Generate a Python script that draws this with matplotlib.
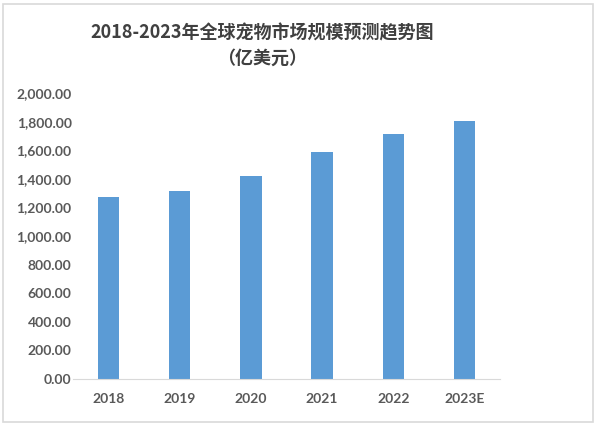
import matplotlib
matplotlib.use("Agg")
import matplotlib.pyplot as plt
from matplotlib.patches import Rectangle
from matplotlib.ticker import FuncFormatter

plt.rcParams['font.family'] = ['Lato', 'Noto Sans CJK SC', 'DejaVu Sans']

years = ["2018", "2019", "2020", "2021", "2022", "2023E"]
market_size = [1270, 1317, 1420, 1590, 1713, 1806]
y_ticks = [0, 200, 400, 600, 800, 1000, 1200, 1400, 1600, 1800, 2000]

fig = plt.figure(figsize=(6, 4.28), dpi=100)
ax = fig.add_axes([0.1217, 0.1145, 0.7116, 0.668])

ax.bar(range(len(years)), market_size, width=0.30, color="#5B9BD5", zorder=2)

ax.set_xlim(-0.5, len(years) - 0.5)
ax.set_ylim(0, 2000)
ax.set_yticks(y_ticks)
ax.yaxis.set_major_formatter(FuncFormatter(lambda v, p: f"{v:,.2f}"))
ax.set_xticks(range(len(years)))
ax.set_xticklabels(years)

for s in ["top", "right", "left"]:
    ax.spines[s].set_visible(False)
ax.spines["bottom"].set_color("#d9d9d9")
ax.tick_params(axis="both", length=0, colors="#595959", labelsize=10)
ax.tick_params(axis="y", pad=1)
ax.tick_params(axis="x", pad=10)
for lab in ax.get_yticklabels() + ax.get_xticklabels():
    lab.set_fontweight("bold")

fig.text(0.4375, 0.922, "2018-2023年全球宠物市场规模预测趋势图",
         ha="center", va="center", fontsize=13, fontweight="bold",
         color="#404040", family=["Noto Sans CJK SC", "DejaVu Sans"])
fig.text(0.4375, 0.863, "（亿美元）", ha="center", va="center",
         fontsize=13, fontweight="bold", color="#404040",
         family=["Noto Sans CJK SC", "DejaVu Sans"])

fig.patches.append(Rectangle((3 / 600, 1 - 422 / 428), 590 / 600, 418 / 428,
                             transform=fig.transFigure, fill=False,
                             edgecolor="#d9d9d9", linewidth=1.2))

fig.savefig("out.png", dpi=100)
